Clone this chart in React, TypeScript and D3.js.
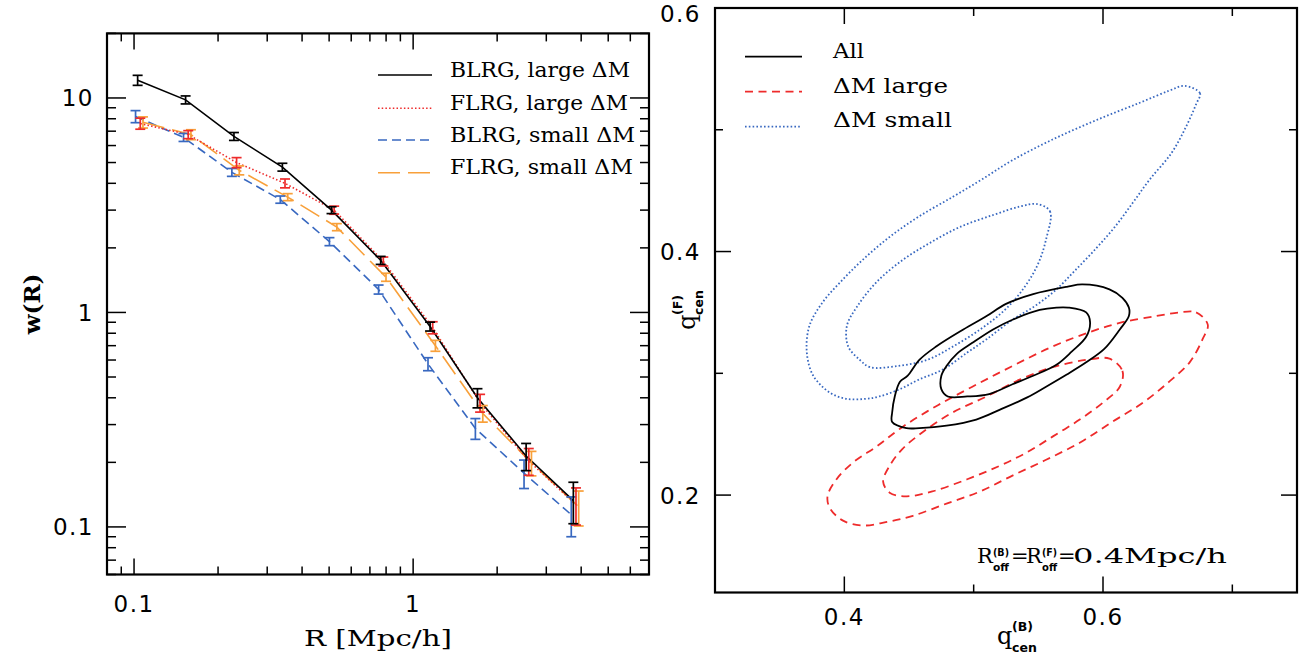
import React from 'react';
import * as d3 from 'd3';

// ---------- Left panel data: w(R) ----------
const radius = [0.103, 0.153, 0.228, 0.34, 0.51, 0.765, 1.15, 1.7, 2.54, 3.75];
const blrgLarge = [12.1, 9.8, 6.62, 4.76, 3.0, 1.75, 0.86, 0.4, 0.214, 0.1325];
const blrgLargeErr = [0.65, 0.42, 0.28, 0.2, 0.11, 0.075, 0.041, 0.041, 0.031, 0.029];
const flrgLarge = [7.6, 6.75, 5.0, 4.0, 3.0, 1.73, 0.85, 0.379, 0.203, 0.127];
const flrgLargeErr = [0.45, 0.29, 0.27, 0.19, 0.13, 0.083, 0.055, 0.036, 0.029, 0.025];
const blrgSmall = [8.2, 6.55, 4.5, 3.36, 2.14, 1.28, 0.575, 0.288, 0.178, 0.114];
const blrgSmallErr = [0.53, 0.28, 0.19, 0.13, 0.092, 0.062, 0.04, 0.032, 0.027, 0.024];
const flrgSmall = [7.7, 6.75, 4.6, 3.45, 2.5, 1.46, 0.7, 0.338, 0.199, 0.124];
const flrgSmallErr = [0.46, 0.36, 0.22, 0.13, 0.095, 0.063, 0.041, 0.03, 0.026, 0.023];
const leftXTicks = [0.1, 1];
const leftYTicks = [0.1, 1, 10];

// ---------- Right panel data: contours (q_cen^B, q_cen^F) ----------
const smallOuter: [number, number][] = [
  [0.663, 0.536], [0.675, 0.53], [0.672, 0.521], [0.664, 0.502], [0.653, 0.481], [0.636, 0.459],
  [0.623, 0.44], [0.609, 0.42], [0.595, 0.403], [0.578, 0.384], [0.563, 0.368], [0.547, 0.355],
  [0.53, 0.344], [0.51, 0.328], [0.495, 0.317], [0.476, 0.303], [0.458, 0.295], [0.443, 0.287],
  [0.427, 0.281], [0.416, 0.279], [0.402, 0.279], [0.389, 0.284], [0.376, 0.298], [0.371, 0.317],
  [0.373, 0.339], [0.383, 0.358], [0.397, 0.375], [0.414, 0.393], [0.435, 0.412], [0.458, 0.429],
  [0.484, 0.445], [0.506, 0.459], [0.53, 0.475], [0.561, 0.492], [0.595, 0.508], [0.628, 0.522],
  [0.651, 0.532],
];
const smallInner: [number, number][] = [
  [0.549, 0.439], [0.559, 0.433], [0.556, 0.41], [0.549, 0.388], [0.536, 0.366], [0.522, 0.35],
  [0.505, 0.336], [0.484, 0.322], [0.464, 0.311], [0.441, 0.306], [0.42, 0.305], [0.412, 0.311],
  [0.403, 0.322], [0.402, 0.339], [0.41, 0.355], [0.425, 0.375], [0.445, 0.393], [0.466, 0.407],
  [0.489, 0.42], [0.515, 0.43], [0.536, 0.437],
];
const allOuter: [number, number][] = [
  [0.584, 0.373], [0.605, 0.369], [0.615, 0.362], [0.62, 0.354], [0.62, 0.347], [0.613, 0.336],
  [0.601, 0.32], [0.587, 0.309], [0.572, 0.299], [0.556, 0.289], [0.541, 0.28], [0.52, 0.27],
  [0.502, 0.262], [0.479, 0.257], [0.458, 0.255], [0.448, 0.255], [0.437, 0.26], [0.437, 0.268],
  [0.439, 0.281], [0.443, 0.293], [0.449, 0.298], [0.458, 0.311], [0.471, 0.322], [0.492, 0.336],
  [0.51, 0.347], [0.525, 0.357], [0.546, 0.365], [0.572, 0.371],
];
const allInner: [number, number][] = [
  [0.573, 0.354], [0.587, 0.35], [0.59, 0.342], [0.587, 0.33], [0.576, 0.318], [0.564, 0.307],
  [0.546, 0.298], [0.53, 0.291], [0.512, 0.283], [0.495, 0.281], [0.48, 0.281], [0.475, 0.287],
  [0.475, 0.298], [0.479, 0.306], [0.487, 0.316], [0.499, 0.325], [0.515, 0.336], [0.53, 0.344],
  [0.551, 0.352], [0.564, 0.354],
];
const largeOuter: [number, number][] = [
  [0.659, 0.35], [0.672, 0.35], [0.681, 0.34], [0.677, 0.328], [0.667, 0.309], [0.651, 0.293],
  [0.631, 0.276], [0.607, 0.26], [0.582, 0.243], [0.556, 0.229], [0.53, 0.216], [0.505, 0.203],
  [0.479, 0.193], [0.453, 0.183], [0.433, 0.178], [0.414, 0.175], [0.399, 0.179], [0.389, 0.189],
  [0.387, 0.199], [0.394, 0.213], [0.407, 0.227], [0.425, 0.24], [0.445, 0.256], [0.471, 0.273],
  [0.499, 0.289], [0.53, 0.306], [0.561, 0.322], [0.59, 0.334], [0.615, 0.342], [0.641, 0.347],
];
const largeInner: [number, number][] = [
  [0.605, 0.312], [0.615, 0.302], [0.613, 0.289], [0.6, 0.276], [0.582, 0.262], [0.561, 0.248],
  [0.541, 0.235], [0.52, 0.224], [0.495, 0.213], [0.468, 0.203], [0.448, 0.199], [0.435, 0.202],
  [0.43, 0.211], [0.435, 0.224], [0.445, 0.238], [0.461, 0.252], [0.484, 0.268], [0.51, 0.281],
  [0.536, 0.295], [0.561, 0.305], [0.587, 0.311],
];

const BLUE = '#3868c0';
const RED = '#ee2b2b';
const ORANGE = '#f8a03a';
const SERIF = "'DejaVu Serif', serif";
const SANS = "'DejaVu Sans', sans-serif";

export default function App() {
  const W = 1306, H = 659;
  const L = { x0: 107, x1: 649, y0: 33.4, y1: 574.5 };
  const P = { x0: 715, x1: 1297, y0: 8, y1: 592.5 };

  const xL = d3.scaleLog().domain([0.08, 7]).range([L.x0, L.x1]);
  const yL = d3.scaleLog().domain([0.06, 20]).range([L.y1, L.y0]);
  const xR = d3.scaleLinear().domain([0.3, 0.75]).range([P.x0, P.x1]);
  const yR = d3.scaleLinear().domain([0.12, 0.6]).range([P.y1, P.y0]);

  const series = [
    { name: 'BLRG, small ΔM', vals: blrgSmall, errs: blrgSmallErr, color: BLUE, dash: '9 5', shift: 0.983 },
    { name: 'FLRG, small ΔM', vals: flrgSmall, errs: flrgSmallErr, color: ORANGE, dash: '22 8', shift: 1.045 },
    { name: 'FLRG, large ΔM', vals: flrgLarge, errs: flrgLargeErr, color: RED, dash: '1.5 2.2', shift: 1.022 },
    { name: 'BLRG, large ΔM', vals: blrgLarge, errs: blrgLargeErr, color: '#000', dash: undefined, shift: 1 },
  ];
  const legendOrder = [3, 2, 0, 1];

  const lineL = d3.line<[number, number]>().x(d => xL(d[0])).y(d => yL(d[1]));
  const contour = d3.line<[number, number]>()
    .x(d => xR(d[0])).y(d => yR(d[1]))
    .curve(d3.curveCatmullRomClosed.alpha(0.5));

  const isPow10 = (v: number) => Math.abs(Math.log10(v) - Math.round(Math.log10(v))) < 1e-6;
  const isMajorR = (v: number) => Math.round(v * 10) % 2 === 0;
  const MAJ = 16, MIN = 8;

  const leftLegY = [75, 108.3, 140, 172.7];
  const leftLegBase = [76.7, 109.5, 142, 174];
  const leftLegW = [180, 178, 185, 183];

  const rightLeg = [
    { label: 'All', color: '#000', dash: undefined as string | undefined, w: 31 },
    { label: 'ΔM large', color: RED, dash: '8 5.5', w: 115 },
    { label: 'ΔM small', color: BLUE, dash: '1.6 2.2', w: 119 },
  ];
  const rightLegY = [56.7, 91.7, 126.7];
  const rightLegBase = [58.3, 92.7, 127.3];

  const subStyle = { fontFamily: SANS, fontSize: 10.5, fontWeight: 'bold' as const };

  return (
    <svg width={W} height={H} style={{ position: 'absolute', left: 0, top: 0, background: '#fff' }}>
      <rect x={0} y={0} width={W} height={H} fill="#fff" />

      {/* ---------------- LEFT PANEL ---------------- */}
      <g>
        {xL.ticks().map((t, i) => {
          const len = isPow10(t) ? MAJ : MIN;
          const x = xL(t);
          return (
            <g key={'xl' + i}>
              <line x1={x} x2={x} y1={L.y1} y2={L.y1 - len} stroke="#000" strokeWidth={1.5} />
              <line x1={x} x2={x} y1={L.y0} y2={L.y0 + len} stroke="#000" strokeWidth={1.5} />
            </g>
          );
        })}
        {yL.ticks().map((t, i) => {
          const len = isPow10(t) ? MAJ + 3 : MIN + 1;
          const y = yL(t);
          return (
            <g key={'yl' + i}>
              <line x1={L.x0} x2={L.x0 + len} y1={y} y2={y} stroke="#000" strokeWidth={1.5} />
              <line x1={L.x1} x2={L.x1 - len} y1={y} y2={y} stroke="#000" strokeWidth={1.5} />
            </g>
          );
        })}
        {leftXTicks.map((t, i) => (
          <text key={'xlt' + i} x={xL(t)} y={612} textAnchor="middle" fontFamily={SANS} fontSize={23} letterSpacing={1.5}>
            {t < 1 ? '0.1' : String(t)}
          </text>
        ))}
        {leftYTicks.map((t, i) => (
          <text key={'ylt' + i} x={94} y={yL(t) + 8.3} textAnchor="end" fontFamily={SANS} fontSize={23} letterSpacing={1.5}>
            {t < 1 ? '0.1' : String(t)}
          </text>
        ))}

        {series.map((s, si) => (
          <path
            key={'sl' + si}
            d={lineL(radius.map((r, i) => [r * s.shift, s.vals[i]] as [number, number])) || ''}
            fill="none"
            stroke={s.color}
            strokeWidth={1.6}
            strokeDasharray={s.dash}
          />
        ))}
        {series.map((s, si) => (
          <g key={'eb' + si} stroke={s.color} strokeWidth={1.7}>
            {radius.map((r, i) => {
              const x = xL(r * s.shift);
              const yt = yL(s.vals[i] + s.errs[i]);
              const yb = yL(Math.max(s.vals[i] - s.errs[i], 0.001));
              return (
                <g key={i}>
                  <line x1={x} x2={x} y1={yt} y2={yb} />
                  <line x1={x - 5} x2={x + 5} y1={yt} y2={yt} />
                  <line x1={x - 5} x2={x + 5} y1={yb} y2={yb} />
                </g>
              );
            })}
          </g>
        ))}

        {legendOrder.map((si, k) => {
          const s = series[si];
          return (
            <g key={'lg' + k}>
              <line x1={378} x2={432} y1={leftLegY[k]} y2={leftLegY[k]} stroke={s.color} strokeWidth={1.6} strokeDasharray={s.dash} />
              <text x={450} y={leftLegBase[k]} fontFamily={SERIF} fontSize={21} textLength={leftLegW[k]} lengthAdjust="spacingAndGlyphs">
                {s.name}
              </text>
            </g>
          );
        })}

        <rect x={L.x0} y={L.y0} width={L.x1 - L.x0} height={L.y1 - L.y0} fill="none" stroke="#000" strokeWidth={2.2} />

        <text x={(L.x0 + L.x1) / 2 - 74} y={646} fontFamily={SERIF} fontSize={23} textLength={148} lengthAdjust="spacingAndGlyphs">
          R [Mpc/h]
        </text>
        <text
          transform={`translate(40, ${(L.y0 + L.y1) / 2}) rotate(-90)`}
          textAnchor="middle"
          fontFamily={SERIF}
          fontSize={23}
          fontWeight="bold"
        >
          w(R)
        </text>
      </g>

      {/* ---------------- RIGHT PANEL ---------------- */}
      <g>
        {xR.ticks(5).map((t, i) => {
          const len = isMajorR(t) ? MAJ : MIN;
          const x = xR(t);
          return (
            <g key={'xr' + i}>
              <line x1={x} x2={x} y1={P.y1} y2={P.y1 - len} stroke="#000" strokeWidth={1.5} />
              <line x1={x} x2={x} y1={P.y0} y2={P.y0 + len} stroke="#000" strokeWidth={1.5} />
            </g>
          );
        })}
        {yR.ticks(5).map((t, i) => {
          const len = isMajorR(t) ? MAJ : MIN;
          const y = yR(t);
          return (
            <g key={'yr' + i}>
              <line x1={P.x0} x2={P.x0 + len} y1={y} y2={y} stroke="#000" strokeWidth={1.5} />
              <line x1={P.x1} x2={P.x1 - len} y1={y} y2={y} stroke="#000" strokeWidth={1.5} />
            </g>
          );
        })}
        {xR.ticks(5).filter(isMajorR).map((t, i) => (
          <text key={'xrt' + i} x={xR(t)} y={625} textAnchor="middle" fontFamily={SANS} fontSize={23} letterSpacing={1.5}>
            {d3.format('.1f')(t)}
          </text>
        ))}
        {yR.ticks(5).filter(isMajorR).map((t, i) => (
          <text key={'yrt' + i} x={701} y={Math.max(yR(t) + 8.5, 21.5)} textAnchor="end" fontFamily={SANS} fontSize={23} letterSpacing={1.5}>
            {d3.format('.1f')(t)}
          </text>
        ))}

        <path d={contour(smallOuter) || ''} fill="none" stroke={BLUE} strokeWidth={1.8} strokeDasharray="1.6 2.2" />
        <path d={contour(smallInner) || ''} fill="none" stroke={BLUE} strokeWidth={1.8} strokeDasharray="1.6 2.2" />
        <path d={contour(largeOuter) || ''} fill="none" stroke={RED} strokeWidth={1.8} strokeDasharray="8 5.5" />
        <path d={contour(largeInner) || ''} fill="none" stroke={RED} strokeWidth={1.8} strokeDasharray="8 5.5" />
        <path d={contour(allOuter) || ''} fill="none" stroke="#000" strokeWidth={1.8} />
        <path d={contour(allInner) || ''} fill="none" stroke="#000" strokeWidth={1.8} />

        {rightLeg.map((r, k) => (
          <g key={'rl' + k}>
            <line x1={745} x2={802} y1={rightLegY[k]} y2={rightLegY[k]} stroke={r.color} strokeWidth={1.8} strokeDasharray={r.dash} />
            <text x={833} y={rightLegBase[k]} fontFamily={SERIF} fontSize={21} textLength={r.w} lengthAdjust="spacingAndGlyphs">
              {r.label}
            </text>
          </g>
        ))}

        {/* annotation */}
        <g fontFamily={SERIF} fontSize={21}>
          <text x={977} y={563}>R</text>
          <text x={993} y={556} {...subStyle} textLength={16} lengthAdjust="spacingAndGlyphs">(B)</text>
          <text x={993} y={571} {...subStyle} textLength={16} lengthAdjust="spacingAndGlyphs">off</text>
          <text x={1011} y={563}>=</text>
          <text x={1026} y={563}>R</text>
          <text x={1042} y={556} {...subStyle} textLength={15} lengthAdjust="spacingAndGlyphs">(F)</text>
          <text x={1042} y={571} {...subStyle} textLength={15} lengthAdjust="spacingAndGlyphs">off</text>
          <text x={1058} y={563}>=</text>
          <text x={1073} y={563} textLength={154} lengthAdjust="spacingAndGlyphs">0.4Mpc/h</text>
        </g>

        <rect x={P.x0} y={P.y0} width={P.x1 - P.x0} height={P.y1 - P.y0} fill="none" stroke="#000" strokeWidth={2.2} />

        <g>
          <text x={997} y={644} fontFamily={SERIF} fontSize={24}>q</text>
          <text x={1012} y={631} fontFamily={SANS} fontSize={12.5} fontWeight="bold">(B)</text>
          <text x={1012} y={652} fontFamily={SANS} fontSize={12.5} fontWeight="bold">cen</text>
        </g>
        <g transform={`translate(695, 330) rotate(-90)`}>
          <text x={0} y={0} fontFamily={SERIF} fontSize={24}>q</text>
          <text x={15} y={-13} fontFamily={SANS} fontSize={12.5} fontWeight="bold">(F)</text>
          <text x={15} y={8} fontFamily={SANS} fontSize={12.5} fontWeight="bold">cen</text>
        </g>
      </g>
    </svg>
  );
}
